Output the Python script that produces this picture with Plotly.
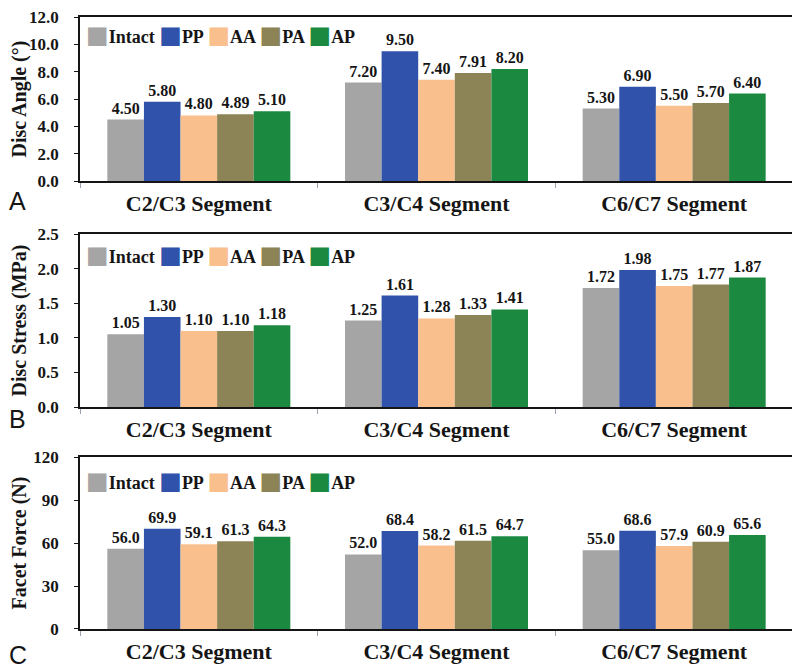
import plotly.graph_objects as go

segments = ["C2/C3 Segment", "C3/C4 Segment", "C6/C7 Segment"]
series = ["Intact", "PP", "AA", "PA", "AP"]
colors = ["#a5a5a5", "#3152ab", "#f9c08e", "#8c8456", "#1b8a40"]

disc_angle = {
    "Intact": [4.50, 7.20, 5.30],
    "PP": [5.80, 9.50, 6.90],
    "AA": [4.80, 7.40, 5.50],
    "PA": [4.89, 7.91, 5.70],
    "AP": [5.10, 8.20, 6.40],
}
disc_stress = {
    "Intact": [1.05, 1.25, 1.72],
    "PP": [1.30, 1.61, 1.98],
    "AA": [1.10, 1.28, 1.75],
    "PA": [1.10, 1.33, 1.77],
    "AP": [1.18, 1.41, 1.87],
}
facet_force = {
    "Intact": [56.0, 52.0, 55.0],
    "PP": [69.9, 68.4, 68.6],
    "AA": [59.1, 58.2, 57.9],
    "PA": [61.3, 61.5, 60.9],
    "AP": [64.3, 64.7, 65.6],
}

panels = [
    dict(data=disc_angle, title="Disc Angle (°)", rng=[0, 12], dtick=2, fmt=".1f", tfmt="%{y:.2f}", letter="A"),
    dict(data=disc_stress, title="Disc Stress (MPa)", rng=[0, 2.5], dtick=0.5, fmt=".1f", tfmt="%{y:.2f}", letter="B"),
    dict(data=facet_force, title="Facet Force (N)", rng=[0, 120], dtick=30, fmt="d", tfmt="%{y:.1f}", letter="C"),
]

W, H = 792, 663
MARGIN = dict(l=72, r=7, t=9, b=42)
H_PLOT = float(H - MARGIN["t"] - MARGIN["b"])
domains = [[0.7320, 1.0], [0.3627, 0.6454], [0.0, 0.2810]]
legend_offsets = [18, 21, 24]      # px below panel top
letter_offsets = [20, 12, 26]      # px below panel bottom
FONT = "Liberation Serif"
INK = "#151515"

fig = go.Figure()
layout = {}
annotations = []
for i, p in enumerate(panels):
    n = "" if i == 0 else str(i + 1)
    for s, c in zip(series, colors):
        fig.add_trace(go.Bar(
            x=segments, y=p["data"][s], name=s, marker_color=c, marker_line_width=0,
            xaxis="x" + n, yaxis="y" + n, showlegend=False,
            texttemplate=p["tfmt"], textposition="outside",
            textfont=dict(family=FONT, size=16, color=INK, weight="bold"),
            cliponaxis=False,
        ))
    layout["xaxis" + n] = dict(
        domain=[0, 1], anchor="y" + n, showline=True, linecolor=INK, linewidth=1.6,
        mirror=True, ticks="outside", tickson="boundaries", ticklen=5, tickcolor="#9aa4b0",
        tickfont=dict(family=FONT, size=22, color=INK, weight="bold"),
        ticklabelstandoff=2, automargin=False,
    )
    layout["yaxis" + n] = dict(
        domain=domains[i], anchor="x" + n, range=p["rng"], dtick=p["dtick"], tickformat=p["fmt"],
        showline=True, linecolor=INK, linewidth=1.6, mirror=True, showgrid=False, zeroline=False,
        ticks="outside", ticklen=4, tickcolor=INK,
        tickfont=dict(family=FONT, size=17, color=INK, weight="bold"),
        ticklabelstandoff=12, automargin=False, ticklabeloverflow="allow",
        title=dict(text=p["title"], font=dict(family=FONT, size=20, color=INK, weight="bold"), standoff=6),
    )
    legend_text = " ".join(
        f"<span style='color:{c};font-family:DejaVu Sans;font-size:24px'>■</span>{s}"
        for s, c in zip(series, colors)
    )
    annotations.append(dict(
        text=legend_text, xref="paper", yref="paper", x=0.006,
        y=domains[i][1] - legend_offsets[i] / H_PLOT,
        xanchor="left", yanchor="middle", showarrow=False,
        font=dict(family=FONT, size=18, color=INK, weight="bold"),
    ))
    annotations.append(dict(
        text=p["letter"], xref="paper", yref="paper", x=-0.087,
        y=domains[i][0] - letter_offsets[i] / H_PLOT,
        xanchor="center", yanchor="middle", showarrow=False,
        font=dict(family="Liberation Sans", size=25, color=INK),
    ))

fig.update_layout(
    width=W, height=H,
    margin=MARGIN,
    paper_bgcolor="white", plot_bgcolor="white",
    barmode="group", bargap=0.23, bargroupgap=0,
    showlegend=False,
    annotations=annotations,
    **layout,
)
fig.write_html("out.html")
